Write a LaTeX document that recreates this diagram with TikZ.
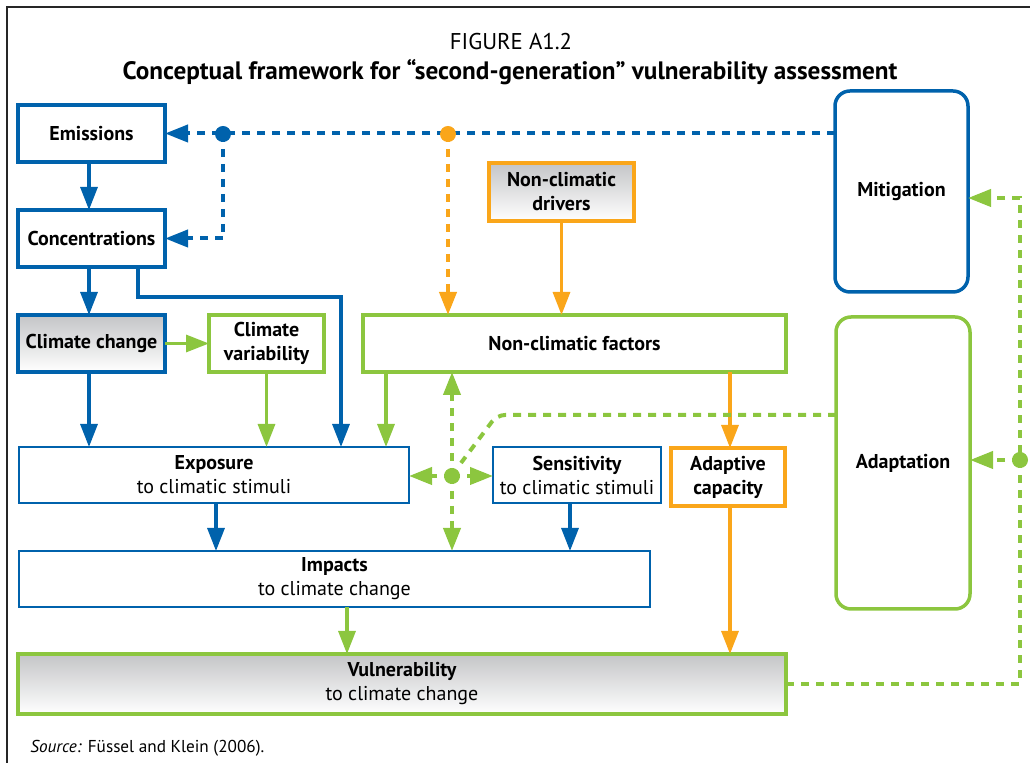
\documentclass[tikz,border=0pt]{standalone}
\usepackage{fontspec}
\setmainfont{PT Sans}
\usetikzlibrary{arrows.meta,calc}
\definecolor{cblue}{RGB}{0,98,172}
\definecolor{cgreen}{RGB}{140,198,63}
\definecolor{corange}{RGB}{250,166,26}
\definecolor{cgray}{RGB}{196,197,199}
\begin{document}
\begin{tikzpicture}[x=0.5pt,y=-0.5pt,
  bx/.style 2 args={minimum width=#1*0.5pt, minimum height=#2*0.5pt, inner sep=0pt, outer sep=0pt,
    align=center, font=\fontsize{10}{12}\selectfont\bfseries},
  bthick/.style={draw=cblue, line width=1.75pt},
  bthin/.style={draw=cblue, line width=1pt},
  gthick/.style={draw=cgreen, line width=1.75pt},
  othick/.style={draw=corange, line width=1.75pt},
  shd/.style={top color=cgray, bottom color=white},
  arr/.style={line width=1.6pt, -{Triangle[length=11.5pt,width=8.5pt]}},
  dsh/.style={line width=2pt, dash pattern=on 4pt off 3.5pt},
  dtip/.style={-{Triangle[length=11.5pt,width=8.5pt]}},
  dot/.style={circle, inner sep=0pt, minimum size=8pt}
]
\useasboundingbox (0,0) rectangle (1030,763);
\draw[line width=1pt, black!85] (7,763) -- (7,7) -- (1030,7);

% titles
\node[font=\fontsize{11.4}{13}\selectfont] (fig) at (511,42) {FIGURE A1.2};
\node[font=\fontsize{12.6}{14}\selectfont\bfseries] (ttl) at (510,72) {Conceptual framework for “second-generation” vulnerability assessment};

% boxes
\node[bx={147}{57}, bthick] (em) at (91.5,133.5) {Emissions};
\node[bx={147}{57}, bthick] (conc) at (91.5,238.5) {Concentrations};
\node[bx={147}{57}, bthick, shd] (cc) at (91.5,343.5) {Climate change};
\node[bx={115}{57}, gthick] (cv) at (266.5,343.5) {Climate\\variability};
\node[bx={423}{57}, gthick] (ncf) at (574.5,343.5) {Non-climatic factors};
\node[bx={145}{58}, othick, shd] (ncd) at (561.5,192) {Non-climatic\\drivers};
\node[bx={133}{201}, bthick, rounded corners=7.5pt] (mit) at (901.5,191.5) {Mitigation};
\node[bx={134}{292}, gthick, rounded corners=7.5pt] (ada) at (903,463) {Adaptation};
\node[bx={390}{56}, bthin] (exp) at (214,475) {Exposure\\{\mdseries to climatic stimuli}};
\node[bx={168}{56}, bthin] (sen) at (577,475) {Sensitivity\\{\mdseries to climatic stimuli}};
\node[bx={114}{58}, othick] (adc) at (728,477) {Adaptive\\capacity};
\node[bx={631}{56}, bthin] (imp) at (334.5,579) {Impacts\\{\mdseries to climate change}};
\node[bx={768}{60}, gthick, shd] (vul) at (402,684) {Vulnerability\\{\mdseries to climate change}};

\node[anchor=west, inner sep=0pt, font=\fontsize{8.6}{10}\selectfont] (src) at (30,748) {\textit{Source:} Füssel and Klein (2006).};

% solid arrows
\draw[arr, cblue] (em.south -| 89,0) -- (conc.north -| 89,0);
\draw[arr, cblue] (conc.south -| 89,0) -- (cc.north -| 89,0);
\draw[arr, cblue] (conc.south -| 138,0) |- (341,297) -- (exp.north -| 341,0);
\draw[arr, cgreen] (cc.east) -- (cv.west);
\draw[arr, cblue] (cc.south -| 89,0) -- (exp.north -| 89,0);
\draw[arr, cgreen] (cv.south) -- (exp.north -| cv.south);
\draw[arr, cgreen] (ncf.south -| 386,0) -- (exp.north -| 386,0);
\draw[arr, corange] (ncd.south) -- (ncf.north -| ncd.south);
\draw[arr, corange] (ncf.south -| 730,0) -- (adc.north -| 730,0);
\draw[arr, corange] (adc.south -| 730,0) -- (vul.north -| 730,0);
\draw[arr, cblue] (exp.south -| 216,0) -- (imp.north -| 216,0);
\draw[arr, cblue] (sen.south -| 570,0) -- (imp.north -| 570,0);
\draw[arr, cgreen] (imp.south -| 347,0) -- (vul.north -| 347,0);

% dashed connectors
\coordinate (bdot) at (223,134);
\coordinate (odot) at (448,134);
\coordinate (gdot) at (452,476);
\coordinate (rdot) at (1020,460);
\coordinate (rc1) at (1020,198);
\coordinate (gk) at (497,415);

\draw[dsh, cblue, dtip] (mit.west |- em.east) -- (em.east);
\draw[dsh, cblue, dtip] (bdot) |- (conc.east);
\draw[dsh, corange, dtip] (odot) -- (odot |- ncf.north);
\draw[dsh, cgreen, dtip] (vul.east) -| (rc1) -- (mit.east |- rc1);
\draw[dsh, cgreen, dtip] (rdot) -- (ada.east |- rdot);
\draw[dsh, cgreen, rounded corners=4pt] (ada.west |- gk) -- (gk) -- ($(gdot)+(9,-13)$);
\draw[dsh, cgreen, dtip] (gdot) -- (gdot |- ncf.south);
\draw[dsh, cgreen, dtip] (gdot) -- (gdot |- imp.north);
\draw[dsh, cgreen, dtip] (gdot) -- (exp.east |- gdot);
\draw[dsh, cgreen, dtip] (gdot) -- (sen.west |- gdot);

% dots
\node[dot, fill=cblue] (bd) at (bdot) {};
\node[dot, fill=corange] (od) at (odot) {};
\node[dot, fill=cgreen] (gd) at (gdot) {};
\node[dot, fill=cgreen] (rd) at (rdot) {};
\end{tikzpicture}
\end{document}
